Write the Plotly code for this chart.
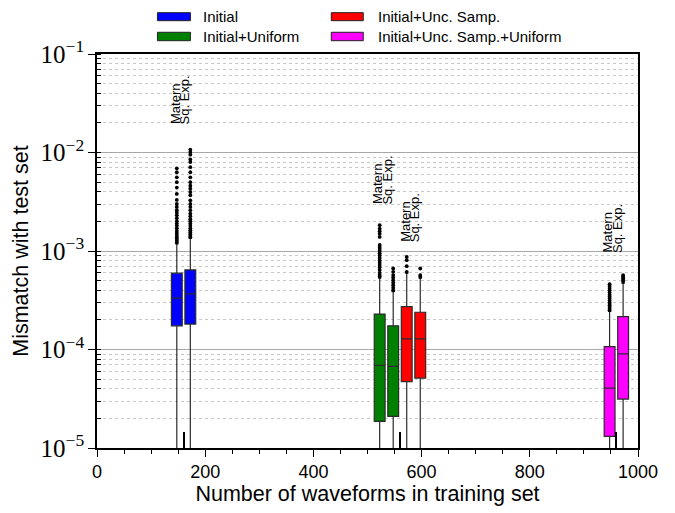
import math
import plotly.graph_objects as go

# ---- data -----------------------------------------------------------------
series_names = ["Initial", "Initial+Uniform", "Initial+Unc. Samp.", "Initial+Unc. Samp.+Uniform"]
series_colors = ["#0000ff", "#008000", "#ff0000", "#ff00ff"]

# kernel order inside each series: Matern, Sq. Exp.
kernel_names = ["Matern", "Sq. Exp."]
positions = [[147.5, 172.5], [522.5, 547.5], [572.5, 597.5], [947.5, 972.5]]

q1 = [[1.74e-4, 1.81e-4], [1.86e-5, 2.09e-5], [4.73e-5, 5.13e-5], [1.31e-5, 3.14e-5]]
median = [[3.32e-4, 3.67e-4], [6.89e-5, 6.73e-5], [1.28e-4, 1.28e-4], [4.06e-5, 9.04e-5]]
q3 = [[5.96e-4, 6.43e-4], [2.29e-4, 1.74e-4], [2.73e-4, 2.39e-4], [1.07e-4, 2.16e-4]]
upper_whisker = [[1.18e-3, 1.35e-3], [5.3e-4, 3.87e-4], [5.96e-4, 5.3e-4], [2.43e-4, 4.7e-4]]
lower_whisker = [[3e-6, 3e-6], [3e-6, 3e-6], [3e-6, 3e-6], [3e-6, 3e-6]]

outliers = [
    [
        [1.22e-3, 1.27e-3, 1.32e-3, 1.38e-3, 1.45e-3, 1.52e-3, 1.6e-3, 1.7e-3, 1.8e-3, 1.9e-3,
         2.0e-3, 2.15e-3, 2.3e-3, 2.45e-3, 2.6e-3, 2.8e-3, 3.0e-3, 3.3e-3, 3.8e-3, 4.4e-3,
         5.0e-3, 5.6e-3, 6.3e-3, 6.9e-3],
        [1.38e-3, 1.42e-3, 1.48e-3, 1.55e-3, 1.62e-3, 1.7e-3, 1.8e-3, 1.9e-3, 2.0e-3, 2.1e-3,
         2.25e-3, 2.4e-3, 2.6e-3, 2.8e-3, 3.0e-3, 3.27e-3, 3.68e-3, 3.97e-3, 4.3e-3, 4.6e-3,
         5.0e-3, 5.6e-3, 6.3e-3, 7.1e-3, 8.0e-3, 8.5e-3, 9.5e-3, 1.01e-2, 1.07e-2],
    ],
    [
        [5.5e-4, 5.7e-4, 6.0e-4, 6.4e-4, 6.8e-4, 7.2e-4, 7.6e-4, 8.0e-4, 8.5e-4, 9.0e-4,
         9.5e-4, 1.0e-3, 1.05e-3, 1.1e-3, 1.15e-3, 1.39e-3, 1.5e-3, 1.59e-3, 1.69e-3, 1.83e-3],
        [4.0e-4, 4.23e-4, 4.5e-4, 4.75e-4, 5.06e-4, 5.39e-4, 5.69e-4, 6.14e-4, 6.64e-4],
    ],
    [
        [6.14e-4, 7.01e-4, 8.07e-4, 8.71e-4],
        [5.48e-4, 5.69e-4, 6.64e-4],
    ],
    [
        [2.5e-4, 2.6e-4, 2.7e-4, 2.8e-4, 2.9e-4, 3.0e-4, 3.15e-4, 3.3e-4, 3.45e-4, 3.6e-4,
         3.8e-4, 4.0e-4, 4.2e-4, 4.4e-4, 4.6e-4],
        [4.9e-4, 5.1e-4, 5.3e-4, 5.5e-4, 5.7e-4],
    ],
]

# training-set sizes of the three stages
stage_sizes = [160, 560, 960]

x_ticks = [0, 200, 400, 600, 800, 1000]

# ---- styling --------------------------------------------------------------
SANS = "Liberation Sans"
SERIF = "Liberation Serif"
W, H = 675, 513
L, R, T, B = 96.5, 638.0, 54.0, 447.7


def paper_x(px):
    return (px - L) / (R - L)


def paper_y(py):
    return (B - py) / (B - T)


# how far above the highest outlier the kernel labels sit (multiplicative, log axis)
label_lift = [1.73, 1.55, 1.35, 1.6]

fig = go.Figure()

for s, name in enumerate(series_names):
    fig.add_trace(go.Box(
        x=positions[s],
        q1=q1[s], median=median[s], q3=q3[s],
        lowerfence=lower_whisker[s], upperfence=upper_whisker[s],
        orientation="v",
        width=20,
        whiskerwidth=0.3,
        fillcolor=series_colors[s],
        line=dict(color="#2b2b2b", width=1.2),
        boxpoints=False,
        name=name,
        showlegend=False,
        hoverinfo="skip",
    ))
    xs, ys = [], []
    for k in range(2):
        xs += [positions[s][k]] * len(outliers[s][k])
        ys += outliers[s][k]
    fig.add_trace(go.Scatter(
        x=xs, y=ys, mode="markers",
        marker=dict(color="black", size=3.8, line=dict(width=0)),
        showlegend=False, hoverinfo="skip",
    ))

    # kernel labels, rotated, one line per kernel (annotation y is in log units)
    top = max(max(outliers[s][0]), max(outliers[s][1]))
    for k, kname in enumerate(kernel_names):
        fig.add_annotation(
            x=positions[s][0], y=math.log10(top * label_lift[s]),
            xref="x", yref="y", yanchor="bottom", xanchor="center",
            xshift=-2 if k == 0 else 8,
            text=kname, textangle=-90, showarrow=False,
            font=dict(family=SANS, size=13, color="black"),
        )

# hand-drawn legend above the axes
legend_cols = [(157.0, 190.0, 200.7), (331.0, 363.0, 376.0)]
legend_rows = [(12.7, 20.7), (32.3, 40.7)]
legend_slots = [(0, 0), (0, 1), (1, 0), (1, 1)]  # (column, row) for each series
for s, name in enumerate(series_names):
    c, r = legend_slots[s]
    x0, x1, xt = legend_cols[c]
    y0, y1 = legend_rows[r]
    fig.add_shape(type="rect", xref="paper", yref="paper",
                  x0=paper_x(x0), x1=paper_x(x1), y0=paper_y(y1), y1=paper_y(y0),
                  fillcolor=series_colors[s], line=dict(color="#222222", width=1))
    fig.add_annotation(xref="paper", yref="paper", x=paper_x(xt), y=paper_y((y0 + y1) / 2),
                       xanchor="left", yanchor="middle", text=name, showarrow=False,
                       font=dict(family=SANS, size=15, color="black"))

fig.update_layout(
    width=W, height=H,
    margin=dict(l=L, r=W - R, t=T, b=H - B),
    paper_bgcolor="white", plot_bgcolor="white",
    showlegend=False,
    xaxis=dict(
        range=[0, 1000],
        tickvals=x_ticks, ticktext=[str(v) for v in x_ticks],
        ticks="outside", ticklen=7, tickwidth=1.4, tickcolor="black",
        minor=dict(dtick=50, tick0=0, ticks="outside", ticklen=4, tickwidth=1.2, tickcolor="black"),
        showgrid=False, zeroline=False,
        showline=True, linecolor="black", linewidth=1.6, mirror=True,
        tickfont=dict(family=SANS, size=18, color="black"),
        title=dict(text="Number of waveforms in training set",
                   font=dict(family=SANS, size=21.5, color="black"), standoff=4),
    ),
    xaxis2=dict(
        range=[0, 1000], overlaying="x", side="bottom",
        tickvals=stage_sizes, showticklabels=False,
        ticks="inside", ticklen=16, tickwidth=1.6, tickcolor="black",
        showgrid=False, zeroline=False, showline=False,
    ),
    yaxis=dict(
        type="log", range=[-5, -1], dtick=1,
        exponentformat="power", showexponent="all",
        ticks="outside", ticklen=7, tickwidth=1.4, tickcolor="black",
        minor=dict(dtick="D1", ticks="inside", ticklen=4, tickwidth=1, tickcolor="black",
                   showgrid=True, gridcolor="#c8c8c8", griddash="dot", gridwidth=1),
        showgrid=True, gridcolor="#a8a8a8", gridwidth=1,
        zeroline=False,
        showline=True, linecolor="black", linewidth=1.6, mirror=True,
        tickfont=dict(family=SERIF, size=20, color="black"),
        title=dict(text="Mismatch with test set",
                   font=dict(family=SANS, size=21.5, color="black"), standoff=6),
    ),
)

# invisible trace so the secondary x axis is rendered
fig.add_trace(go.Scatter(x=[stage_sizes[0]], y=[1e-3], xaxis="x2", mode="markers",
                         marker=dict(opacity=0), showlegend=False, hoverinfo="skip"))

fig.write_html("out.html")
